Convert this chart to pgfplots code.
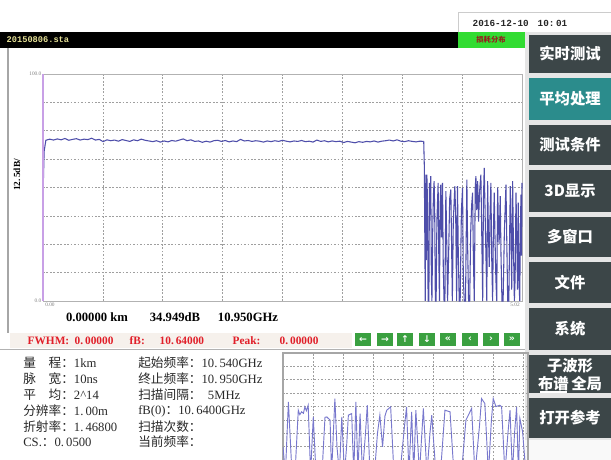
\documentclass[border=0pt]{standalone}
\usepackage{pgfplots}
\pgfplotsset{compat=1.18}
\usepackage{fontspec}
\setmainfont{Liberation Serif}
\setmonofont{Liberation Mono}
\newfontfamily\cjk{Noto Sans CJK SC}
\newfontfamily\dejavu{DejaVu Sans}
\definecolor{trace}{RGB}{78,78,170}
\definecolor{tracelight}{RGB}{120,120,205}
\definecolor{btn}{RGB}{60,70,72}
\definecolor{btnsel}{RGB}{43,140,140}
\definecolor{redtxt}{RGB}{225,30,40}
\definecolor{okgreen}{RGB}{58,160,64}
\definecolor{modegreen}{RGB}{50,220,50}
\definecolor{modetxt}{RGB}{150,30,30}
\definecolor{filetxt}{RGB}{230,225,150}
\definecolor{rowbg}{RGB}{246,241,236}
\definecolor{leftaxis}{RGB}{200,160,230}
\definecolor{info}{RGB}{40,40,40}
\begin{document}
\begin{tikzpicture}[x=0.75pt,y=0.75pt]
\useasboundingbox (0,0) rectangle (611,460);
\clip (0,0) rectangle (611,460);
\fill[white] (0,0) rectangle (611,460);

% header: date, file bar, mode box
\draw[gray!40] (458,428) -- (458,448) -- (611,448);
\node[anchor=west, font=\ttfamily\bfseries\fontsize{7}{8}\selectfont, text=black!85] at (468,437) {2016-12-10};
\node[anchor=west, font=\ttfamily\bfseries\fontsize{7}{8}\selectfont, text=black!85] at (533,437) {10:\,01};
\fill[black] (0,412) rectangle (458,428);
\node[anchor=west, font=\ttfamily\bfseries\fontsize{6.5}{7}\selectfont, text=filetxt] at (2,420) {20150806.sta};
\fill[modegreen] (458,412) rectangle (525,428);
\node[font=\cjk\bfseries\fontsize{5.5}{6}\selectfont, text=modetxt] at (491,420) {损耗分布};

% right button column
\fill[gray!20] (525,0) rectangle (611,428);
\foreach \ya/\yb/\col in {387/425/btn,340/382/btnsel,295/335/btn,248/290/btn,203/243/btn,157/198/btn,110/152/btn,67/105/btn,22/62/btn}{
  \fill[\col] (529,\ya) rectangle (611,\yb);
}
\fill[white!95!gray] (525,0) rectangle (611,20);
\begin{scope}[every node/.style={font=\cjk\bfseries\fontsize{11.5}{13}\selectfont, text=white}]
\node at (570,406) {实时测试};
\node at (570,361) {平均处理};
\node at (570,315) {测试条件};
\node at (570,269) {3D显示};
\node at (570,223) {多窗口};
\node at (570,177.5) {文件};
\node at (570,131) {系统};
\node at (570,94) {子波形};
\node at (570,76) {布谱\,全局};
\node at (570,42) {打开参考};
\end{scope}
\draw[white, line width=0.8pt] (540,68) -- (567,68);

% main panel frame
\draw[gray!70, line width=1pt] (8,127) -- (8,412);

% main plot
\begin{axis}[
    at={(32.25pt,119.25pt)}, anchor=south west,
    scale only axis,
    width=359.25pt, height=170.25pt,
    xmin=0, xmax=5.02, ymin=0, ymax=100,
    xtick={0,0.6275,1.255,1.8825,2.51,3.1375,3.765,4.3925,5.02},
    ytick={0,12.5,...,100},
    xticklabels={}, yticklabels={},
    major tick length=0pt,
    grid=major,
    grid style={gray!75, line width=0.5pt, dash pattern=on 1.3pt off 1.3pt},
    axis line style={gray!60, line width=0.6pt},
    clip=false,
]
\addplot[trace, line width=0.8pt] coordinates {
(0,0) (0,24) (0,46) (0.012,66) (0.03,70.8) (0.07,71.3) (0.11,70.9) (0.15,71.4) (0.19,71.0) (0.23,71.6)
(0.27,70.8) (0.31,71.2) (0.35,71.5) (0.39,70.9) (0.43,71.3) (0.47,71.1) (0.51,71.7) (0.55,70.9)
(0.59,71.2) (0.63,70.2) (0.67,71.0) (0.71,70.6) (0.75,70.9) (0.79,70.4) (0.83,71.1) (0.87,70.7)
(0.91,70.3) (0.95,71.0) (0.99,70.6) (1.03,71.3) (1.07,70.8) (1.11,70.5) (1.15,70.2) (1.19,70.6)
(1.23,70.0) (1.27,70.5) (1.31,70.1) (1.35,70.7) (1.39,70.4) (1.43,70.9) (1.47,71.4) (1.51,70.6)
(1.55,71.0) (1.59,70.3) (1.63,70.5) (1.67,69.9) (1.71,70.4) (1.75,70.0) (1.79,70.6) (1.83,70.8)
(1.87,70.3) (1.91,70.7) (1.95,70.1) (1.99,70.5) (2.03,70.2) (2.07,71.2) (2.11,70.5) (2.15,70.7)
(2.19,70.3) (2.23,70.6) (2.27,70.4) (2.31,70.0) (2.35,70.5) (2.39,70.2) (2.43,70.6) (2.47,70.3)
(2.51,70.8) (2.55,70.4) (2.59,70.1) (2.63,70.5) (2.67,70.3) (2.71,70.7) (2.75,70.2) (2.79,70.4)
(2.83,70.0) (2.87,70.9) (2.91,70.3) (2.95,70.6) (2.99,70.1) (3.03,70.5) (3.07,70.2) (3.11,70.4)
(3.15,69.8) (3.19,70.3) (3.23,70.0) (3.27,69.7) (3.31,70.2) (3.35,69.9) (3.39,70.3) (3.43,70.1)
(3.47,70.5) (3.51,70.0) (3.55,70.4) (3.59,70.6) (3.63,70.9) (3.67,70.5) (3.71,71.0) (3.75,70.4)
(3.79,70.2) (3.83,70.6) (3.87,70.3) (3.91,70.1) (3.95,70.4) (3.99,70.3)
};
\addplot[trace, line width=0.8pt] coordinates {
(3.99,70.3) (3.996,60) (4.002,25) (4.006,0) (4.012,55.7) (4.018,18) (4.023,55.7) (4.029,45)
(4.036,0) (4.044,0) (4.050,52) (4.058,38) (4.064,55.0) (4.070,10) (4.076,0) (4.084,30)
(4.092,47) (4.099,52.8) (4.105,40) (4.112,0) (4.120,0) (4.128,35) (4.141,52.0) (4.148,20)
(4.155,0) (4.162,42) (4.169,51.3) (4.176,28) (4.187,52.0) (4.195,15) (4.203,0) (4.212,0)
(4.222,48.4) (4.230,30) (4.240,0) (4.250,18) (4.262,45) (4.274,49.1) (4.282,25) (4.290,0)
(4.300,35) (4.316,50.6) (4.325,38) (4.335,0) (4.344,50.6) (4.352,22) (4.362,0) (4.372,0)
(4.385,40) (4.397,49.9) (4.405,10) (4.415,0) (4.428,0) (4.442,53.5) (4.450,25) (4.460,0)
(4.472,0) (4.482,30) (4.492,42) (4.502,47.7) (4.510,20) (4.520,0) (4.530,50) (4.537,55.0)
(4.545,40) (4.555,52.8) (4.565,35) (4.575,48) (4.589,55.7) (4.598,30) (4.608,0) (4.616,45)
(4.624,58.6) (4.632,42) (4.642,20) (4.651,0) (4.660,52.8) (4.668,30) (4.677,15) (4.685,38)
(4.694,52.0) (4.702,20) (4.712,0) (4.720,30) (4.729,47.7) (4.737,28) (4.746,10) (4.755,0)
(4.765,49.9) (4.772,35) (4.780,25) (4.792,46.2) (4.800,20) (4.810,0) (4.822,0) (4.835,30)
(4.852,51.3) (4.860,28) (4.870,0) (4.882,0) (4.897,50.6) (4.905,30) (4.912,5) (4.922,52.8)
(4.930,25) (4.940,0) (4.948,10) (4.957,47.7) (4.965,30) (4.973,5) (4.981,43.3) (4.988,10)
(4.996,0) (5.003,30) (5.009,46.9) (5.015,20) (5.020,52)
};
\draw[leftaxis, line width=0.8pt] (rel axis cs:0,0) -- (rel axis cs:0,1);
\node[anchor=east, font=\fontsize{4}{4}\selectfont, text=gray, inner sep=1pt] at (rel axis cs:0,1) {100.0};
\node[anchor=east, font=\fontsize{4}{4}\selectfont, text=gray, inner sep=1pt] at (rel axis cs:0,0) {0.0};
\node[anchor=north west, font=\fontsize{4}{4}\selectfont, text=gray, inner sep=1.5pt] at (rel axis cs:0,0) {0.00};
\node[anchor=north east, font=\fontsize{4}{4}\selectfont, text=gray, inner sep=1.5pt] at (rel axis cs:1,0) {5.02};
\end{axis}
\node[rotate=90, font=\bfseries\fontsize{7}{8}\selectfont] at (17,285) {12.\,5dB/};

% readout line
\begin{scope}[every node/.style={font=\bfseries\fontsize{9.5}{11}\selectfont}]
\node at (97,143) {0.00000 km};
\node at (175,143) {34.949dB};
\node at (248,143) {10.950GHz};
\end{scope}

% FWHM row
\fill[rowbg] (10,112) rectangle (352,127);
\begin{scope}[every node/.style={anchor=west, font=\bfseries\fontsize{8.5}{10}\selectfont, text=redtxt}]
\node at (23,119) {FWHM:};
\node at (70,119) {0.\,00000};
\node at (125,119) {fB:};
\node at (155,119) {10.\,64000};
\node at (228,119) {Peak:};
\node at (275,119) {0.\,00000};
\end{scope}
\foreach \xa/\lab in {355/←,377/→,397/↑,419/↓,440/«,462/‹,483/›,504/»}{
  \fill[okgreen] (\xa,114) rectangle ++(16,13);
  \node[font=\dejavu\bfseries\fontsize{7}{8}\selectfont, text=white] at (\xa+8,120.5) {\lab};
}
\draw[gray!60, line width=0.6pt] (0,111) -- (525,111);

% info panel
\begin{scope}[every node/.style={anchor=west, font=\fontsize{9.5}{11}\selectfont, text=info, inner sep=0pt}]
\node at (23,97) {{\cjk 量　程：}1km};
\node at (23,81) {{\cjk 脉　宽：}10ns};
\node at (23,65) {{\cjk 平　均：}2\textasciicircum14};
\node at (23,49) {{\cjk 分辨率：}1.\,00m};
\node at (23,33) {{\cjk 折射率：}1.\,46800};
\node at (23,18) {CS.{\cjk ：}0.\,0500};
\node at (138,97) {{\cjk 起始频率：}10.\,540GHz};
\node at (138,81) {{\cjk 终止频率：}10.\,950GHz};
\node at (138,65) {{\cjk 扫描间隔：}\ \ 5MHz};
\node at (138,49) {fB(0){\cjk ：}10.\,6400GHz};
\node at (138,33) {{\cjk 扫描次数：}};
\node at (138,18) {{\cjk 当前频率：}};
\end{scope}

% small bottom plot
\begin{axis}[
    at={(212.25pt,-10.2pt)}, anchor=south west,
    scale only axis,
    width=183.75pt, height=90.45pt,
    xmin=0, xmax=8.17, ymin=0, ymax=9,
    xtick={1,...,8}, ytick={1,...,8},
    xticklabels={}, yticklabels={},
    major tick length=0pt,
    grid=major,
    grid style={gray!75, line width=0.5pt, dash pattern=on 1.3pt off 1.3pt},
    axis line style={gray!70, line width=0.8pt},
]
\addplot[tracelight, line width=0.7pt] coordinates {
(0,2) (0.08,0) (0.18,5.35) (0.30,0) (0.40,0) (0.51,4.73) (0.56,4.4) (0.62,4.61) (0.68,4.5)
(0.73,4.98) (0.78,4.7) (0.84,5.10) (0.92,0) (1.01,4.23) (1.10,0) (1.30,0) (1.40,4.2) (1.46,4.23)
(1.57,3.99) (1.62,0) (1.73,5.60) (1.80,2.0) (1.88,0) (1.96,4.23) (2.05,0) (2.12,2) (2.18,4.36)
(2.29,4.48) (2.36,0) (2.43,5.35) (2.50,0) (2.57,4.48) (2.65,0) (2.75,3) (2.81,5.10) (2.90,0)
(3.05,0) (3.15,3) (3.23,4.36) (3.32,2) (3.40,4.3) (3.46,4.73) (3.59,4.98) (3.70,0) (3.90,0)
(4.05,3.5) (4.12,4.98) (4.20,0) (4.29,4.61) (4.36,0) (4.43,4.73) (4.55,0) (4.68,4.86) (4.80,0)
(4.90,3) (4.96,4.36) (5.10,0) (5.25,0) (5.40,4.73) (5.57,4.61) (5.70,0) (5.95,0) (6.10,4.0)
(6.18,4.36) (6.29,4.86) (6.40,0) (6.55,3.5) (6.62,5.60) (6.73,5.23) (6.85,0) (6.95,4) (7.01,5.60)
(7.10,5.0) (7.23,5.10) (7.29,4.98) (7.40,0) (7.50,3) (7.57,4.73) (7.65,0) (7.72,3) (7.79,4.98)
(7.85,0) (7.90,4.11) (7.99,3.11) (8.1,0)
};
\end{axis}
\end{tikzpicture}
\end{document}
